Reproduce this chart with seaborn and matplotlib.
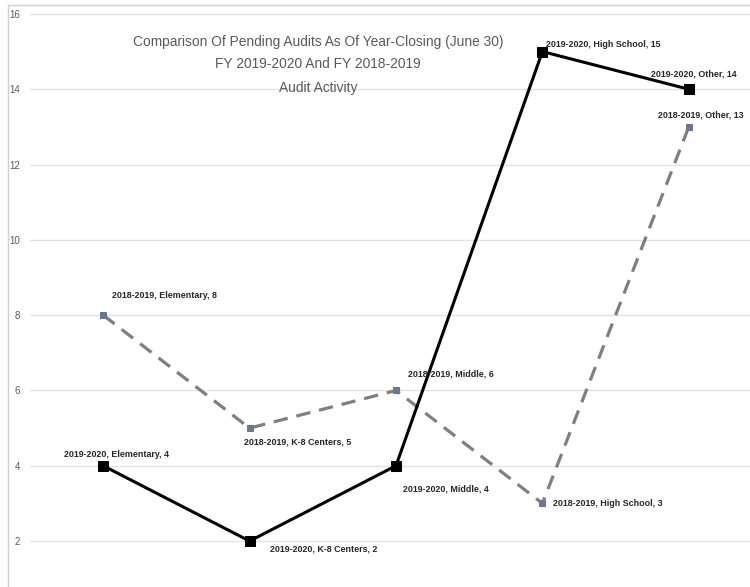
import matplotlib
matplotlib.use("Agg")
import matplotlib.pyplot as plt
import seaborn as sns
import pandas as pd
from matplotlib.lines import Line2D

categories = ["Elementary", "K-8 Centers", "Middle", "High School", "Other"]
fy_2019_2020 = [4, 2, 4, 15, 14]
fy_2018_2019 = [8, 5, 6, 3, 13]
series_names = ["2019-2020", "2018-2019"]
title_lines = ["Comparison Of Pending Audits As Of Year-Closing (June 30)",
               "FY 2019-2020 And FY 2018-2019",
               "Audit Activity"]
y_ticks = [2, 4, 6, 8, 10, 12, 14, 16]

sns.set_theme(style="white")
plt.rcParams['font.family'] = ['Liberation Sans Narrow', 'Liberation Sans', 'DejaVu Sans']

fig = plt.figure(figsize=(7.5, 5.87), dpi=100)
ax = fig.add_axes([30/750, 0, 732/750, 1])

df = pd.DataFrame({"cat": categories, "a": fy_2019_2020, "b": fy_2018_2019})

sns.lineplot(data=df, x="cat", y="b", ax=ax, sort=False, color="#7f7f7f",
             linewidth=2.3, linestyle=(0, (4.5, 2.8)), marker="s", markersize=4.5,
             markerfacecolor="#6b7696", markeredgecolor="#6b7696", zorder=3)
sns.lineplot(data=df, x="cat", y="a", ax=ax, sort=False, color="black",
             linewidth=2.2, marker="s", markersize=7,
             markerfacecolor="black", markeredgecolor="black", zorder=4)

ax.set_xlim(-0.5, 4.5)
ax.set_ylim(0.78, 16.37)
ax.set_yticks(y_ticks)
ax.set_yticklabels([str(t) for t in y_ticks])
ax.set_xticks([])
ax.set_xlabel("")
ax.set_ylabel("")
ax.yaxis.grid(True, color="#e2e2e2", linewidth=1)
ax.tick_params(axis="y", length=0, pad=7, labelsize=7, labelcolor="#595959")
for s in ax.spines.values():
    s.set_visible(False)

# data labels (offsets in pixels)
offs_b = [(9, 20, "left"), (-6, -14, "left"), (12, 16, "left"), (11, 0, "left"), (12, 12, "center")]
offs_a = [(13, 11, "center"), (20, -8, "left"), (7, -23, "left"), (4, 7, "left"), (5, 15, "center")]
lab_kw = dict(textcoords="offset pixels", va="center", fontsize=6.4,
              color="#262626", fontweight="bold", zorder=5)
for i, (c, v) in enumerate(zip(categories, fy_2018_2019)):
    dx, dy, ha = offs_b[i]
    ax.annotate(f"{series_names[1]}, {c}, {v}", (i, v), xytext=(dx, dy), ha=ha, **lab_kw)
for i, (c, v) in enumerate(zip(categories, fy_2019_2020)):
    dx, dy, ha = offs_a[i]
    ax.annotate(f"{series_names[0]}, {c}, {v}", (i, v), xytext=(dx, dy), ha=ha, **lab_kw)

for k, (t, y) in enumerate(zip(title_lines, [42, 64, 88])):
    fig.text(318/750, 1 - y/587, t, ha="center", va="center", fontsize=9.9,
             color="#595959")

# chart-area border
fig.add_artist(Line2D([8/750, 8/750], [0, 1 - 5/587], transform=fig.transFigure,
                      color="#d0d0d0", linewidth=1))
fig.add_artist(Line2D([8/750, 1], [1 - 5/587, 1 - 5/587], transform=fig.transFigure,
                      color="#d0d0d0", linewidth=1))

fig.savefig("out.png", dpi=100)
